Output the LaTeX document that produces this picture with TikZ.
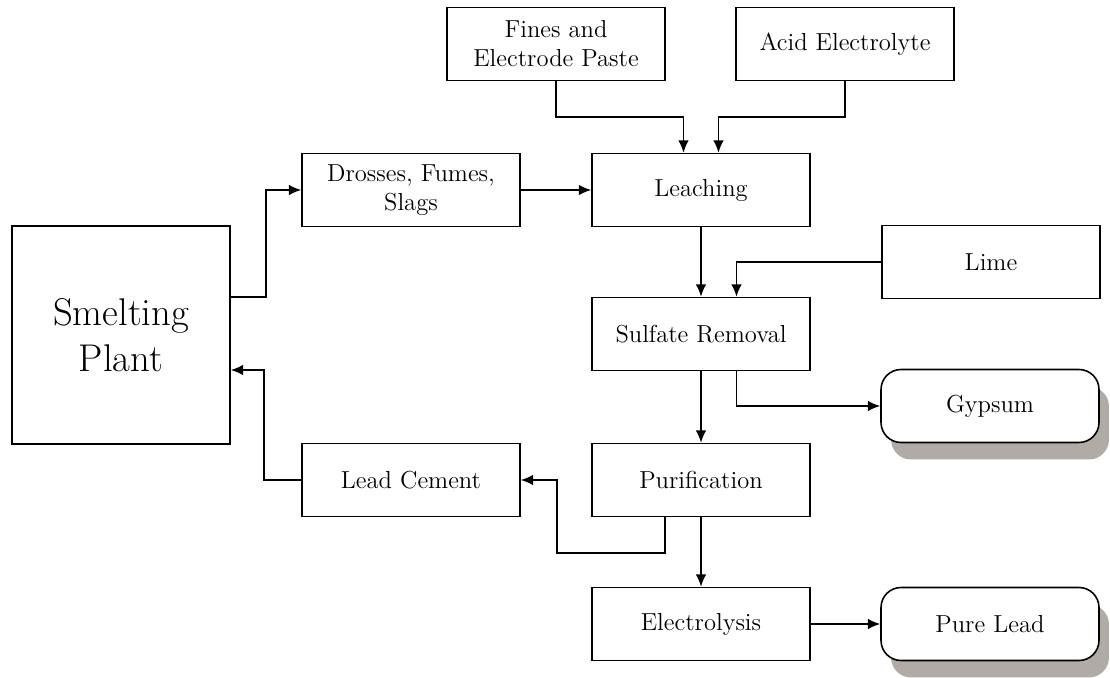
\documentclass[tikz,border=0pt]{standalone}
\usetikzlibrary{arrows.meta,positioning,shadows}
\definecolor{shadowgray}{HTML}{B0ABA5}

\begin{document}
\begin{tikzpicture}[x=0.02cm,y=-0.02cm,
  box/.style={draw,line width=0.9pt,minimum width=4.36cm,minimum height=1.46cm,align=center,inner sep=1pt,font=\fontsize{14}{16.5}\selectfont},
  outbox/.style={box,rounded corners=0.4cm,fill=white,drop shadow={shadow xshift=0.2cm,shadow yshift=-0.34cm,fill=shadowgray,opacity=1}},
  flow/.style={line width=0.9pt,-{Latex[length=7pt,width=6pt]}}]
\useasboundingbox (0,0) rectangle (1110,678);
% feed materials
\node[box] (fines) at (556,44) {Fines and\\Electrode Paste};
\node[box] (acid) at (845,44) {Acid Electrolyte};
\node[box] (dross) at (411,190) {Drosses, Fumes,\\Slags};
\node[box] (lime) at (991,262) {Lime};
\node[box,minimum width=4.36cm,minimum height=4.36cm,font=\fontsize{22}{26}\selectfont] (smelt) at (121,335) {Smelting\\Plant};
% process chain
\node[box] (leach) at (701,190) {Leaching};
\node[box] (sulf) at (701,334) {Sulfate Removal};
\node[box] (purif) at (701,480) {Purification};
\node[box] (elec) at (701,624) {Electrolysis};
\node[box] (cement) at (411,480) {Lead Cement};
% products
\node[outbox] (gyps) at (990,406) {Gypsum};
\node[outbox] (pure) at (990,624) {Pure Lead};

\draw[flow] (fines.south) -- ++(0,36) -| ([xshift=-0.35cm]leach.north);
\draw[flow] (acid.south) -- ++(0,36) -| ([xshift=0.35cm]leach.north);
\draw[flow] ([yshift=0.76cm]smelt.east) -- ++(35,0) |- (dross.west);
\draw[flow] (dross.east) -- (leach.west);
\draw[flow] (leach.south) -- (sulf.north);
\draw[flow] (lime.west) -| ([xshift=0.71cm]sulf.north);
\draw[flow] ([xshift=0.71cm]sulf.south) |- (gyps.west);
\draw[flow] (sulf.south) -- (purif.north);
\draw[flow] ([xshift=-0.72cm]purif.south) -- ++(0,36) -| ([xshift=0.72cm]cement.east) -- (cement.east);
\draw[flow] (cement.west) -- ++(-37,0) |- ([yshift=-0.7cm]smelt.east);
\draw[flow] (purif.south) -- (elec.north);
\draw[flow] (elec.east) -- (pure.west);
\end{tikzpicture}
\end{document}
